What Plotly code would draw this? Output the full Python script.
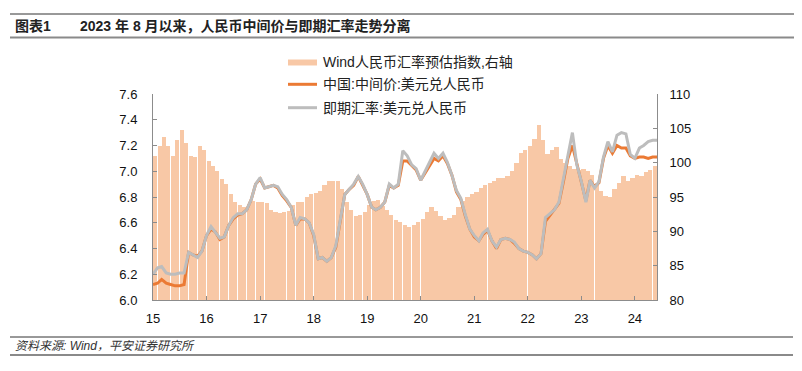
import pandas as pd
import plotly.graph_objects as go

# ---------------- data ----------------
# Monthly bars: Wind人民币汇率预估指数 (right axis), Jan-2015 .. May-2024
bar_months = list(pd.date_range("2015-01-01", "2024-05-01", freq="MS"))
wind_index = [
    101.0, 102.5, 103.8, 102.5, 101.0, 103.3, 104.8, 102.9, 101.0, 100.8, 102.5, 101.8,  # 2015
    100.3, 99.5, 98.8, 97.6, 96.9, 95.4, 94.3, 93.9, 93.5, 93.9, 94.4, 94.3,            # 2016
    94.3, 94.1, 93.1, 92.8, 92.6, 92.8, 92.9, 93.9, 94.3, 94.3, 95.0, 95.4,             # 2017
    95.6, 95.9, 96.7, 97.3, 97.4, 97.3, 96.1, 94.3, 93.1, 92.2, 92.4, 92.8,             # 2018
    93.9, 94.4, 94.6, 93.7, 93.1, 92.4, 91.6, 91.3, 90.9, 90.7, 90.9, 91.3,             # 2019
    91.8, 92.8, 93.5, 92.9, 92.2, 91.6, 92.0, 92.4, 93.5, 94.4, 95.0, 95.4,             # 2020
    95.8, 96.3, 96.7, 97.1, 97.4, 97.8, 97.8, 98.0, 98.8, 99.9, 101.4, 101.9,           # 2021
    102.5, 103.4, 105.5, 103.3, 101.2, 101.8, 102.3, 100.6, 99.9, 99.5, 99.1, 98.9,     # 2022
    99.1, 98.8, 98.2, 97.1, 95.9, 95.2, 95.0, 96.1, 97.1, 98.0, 97.4, 97.8,             # 2023
    98.2, 98.0, 98.6, 98.9, 99.5,                                                       # 2024
]

# Line dates: month starts + last day of the sample
line_dates = list(pd.date_range("2015-01-01", "2024-05-01", freq="MS")) + [pd.Timestamp("2024-05-31")]
# 中国:中间价:美元兑人民币
central_parity = [
    6.12, 6.13, 6.16, 6.13, 6.12, 6.11, 6.11, 6.12, 6.37, 6.35, 6.34, 6.38,
    6.50, 6.55, 6.53, 6.47, 6.49, 6.58, 6.63, 6.66, 6.67, 6.70, 6.78, 6.90,
    6.94, 6.87, 6.88, 6.89, 6.87, 6.81, 6.77, 6.72, 6.58, 6.63, 6.63, 6.60,
    6.50, 6.32, 6.33, 6.30, 6.33, 6.41, 6.61, 6.82, 6.86, 6.89, 6.96, 6.89,
    6.82, 6.72, 6.70, 6.72, 6.76, 6.89, 6.87, 6.89, 7.08, 7.08, 7.04, 7.01,
    6.93, 6.99, 7.04, 7.10, 7.08, 7.12, 7.06, 6.97, 6.84, 6.78, 6.65, 6.55,
    6.49, 6.46, 6.51, 6.54, 6.46, 6.40, 6.47, 6.48, 6.47, 6.44, 6.40, 6.38,
    6.37, 6.35, 6.32, 6.36, 6.61, 6.66, 6.70, 6.75, 6.92, 7.10, 7.20, 7.06,
    6.92, 6.77, 6.93, 6.88, 6.91, 7.10, 7.20, 7.14, 7.20, 7.18, 7.18, 7.12,
    7.10, 7.11, 7.11, 7.10, 7.11, 7.11,
]
# 即期汇率:美元兑人民币
spot_rate = [
    6.20, 6.25, 6.26, 6.21, 6.20, 6.20, 6.21, 6.21, 6.37, 6.35, 6.33, 6.38,
    6.50, 6.57, 6.53, 6.48, 6.49, 6.58, 6.64, 6.67, 6.67, 6.70, 6.78, 6.90,
    6.95, 6.87, 6.88, 6.89, 6.88, 6.82, 6.78, 6.72, 6.58, 6.64, 6.63, 6.60,
    6.51, 6.32, 6.33, 6.30, 6.33, 6.42, 6.62, 6.82, 6.86, 6.90, 6.96, 6.90,
    6.82, 6.72, 6.70, 6.72, 6.76, 6.90, 6.87, 6.90, 7.16, 7.12, 7.05, 7.02,
    6.93, 7.00, 7.06, 7.14, 7.10, 7.14, 7.07, 6.97, 6.85, 6.79, 6.66, 6.55,
    6.50, 6.46, 6.52, 6.55, 6.46, 6.41, 6.47, 6.48, 6.47, 6.45, 6.40, 6.38,
    6.37, 6.35, 6.32, 6.36, 6.64, 6.67, 6.70, 6.76, 6.93, 7.12, 7.30, 7.05,
    6.92, 6.76, 6.93, 6.87, 6.92, 7.11, 7.23, 7.15, 7.28, 7.30, 7.29, 7.13,
    7.10, 7.18, 7.20, 7.23, 7.24, 7.24,
]

year_ticks = [f"{y}-01-01" for y in range(2015, 2025)]
year_labels = ["15", "16", "17", "18", "19", "20", "21", "22", "23", "24"]

legend_names = ["Wind人民币汇率预估指数,右轴", "中国:中间价:美元兑人民币", "即期汇率:美元兑人民币"]
title_tag = "图表1"
title_text = "2023 年 8 月以来，人民币中间价与即期汇率走势分离"
source_text = "资料来源: Wind，平安证券研究所"

# ---------------- styles ----------------
BAR_C = "#F8C8A6"
ORANGE = "#EB7A34"
GRAY = "#BDBDBD"
AXIS_C = "#8C8C8C"
FONT = "Liberation Sans, Arial, Noto Sans CJK SC, sans-serif"
CJK = "Liberation Sans, Noto Sans CJK SC, sans-serif"

# page body has an 8px margin: lay the figure out in window pixels minus that offset
OFF = 8
W, H = 802 - OFF, 371 - OFF
L, R, T, B = 153 - OFF, 657 - OFF, 94 - OFF, 300 - OFF


def px(xp):
    return (xp - OFF - L) / (R - L)


def py(yp):
    return (B - (yp - OFF)) / (B - T)


fig = go.Figure()
fig.add_trace(go.Bar(
    x=bar_months, y=wind_index, yaxis="y", name=legend_names[0],
    marker=dict(color=BAR_C, line=dict(width=0)),
    offset=0, width=28.5 * 86400000, showlegend=False,
))
fig.add_trace(go.Scatter(
    x=line_dates, y=central_parity, yaxis="y2", mode="lines", name=legend_names[1],
    line=dict(color=ORANGE, width=3), showlegend=False,
))
fig.add_trace(go.Scatter(
    x=line_dates, y=spot_rate, yaxis="y2", mode="lines", name=legend_names[2],
    line=dict(color=GRAY, width=3), showlegend=False,
))

shapes = []
annotations = []

# header / footer rules
shapes.append(dict(type="line", xref="paper", yref="paper", x0=px(10), x1=px(802), y0=py(14), y1=py(14),
                   line=dict(color="#333333", width=1)))
shapes.append(dict(type="line", xref="paper", yref="paper", x0=px(10), x1=px(802), y0=py(37.5), y1=py(37.5),
                   line=dict(color="#8a8a8a", width=2)))
shapes.append(dict(type="line", xref="paper", yref="paper", x0=px(10), x1=px(793), y0=py(337), y1=py(337),
                   line=dict(color="#333333", width=1)))
shapes.append(dict(type="line", xref="paper", yref="paper", x0=px(10), x1=px(793), y0=py(355), y1=py(355),
                   line=dict(color="#8a8a8a", width=2)))

annotations.append(dict(text=f"<b>{title_tag}</b>", xref="paper", yref="paper", x=px(13), y=py(25.5),
                        xanchor="left", yanchor="middle", showarrow=False,
                        font=dict(family=CJK, size=14, color="#222222")))
annotations.append(dict(text=f"<b>{title_text}</b>", xref="paper", yref="paper", x=px(78), y=py(25.5),
                        xanchor="left", yanchor="middle", showarrow=False,
                        font=dict(family=CJK, size=14, color="#222222")))
annotations.append(dict(text=f"<i>{source_text}</i>", xref="paper", yref="paper", x=px(13), y=py(346),
                        xanchor="left", yanchor="middle", showarrow=False,
                        font=dict(family=CJK, size=12, color="#333333")))

# manual legend
leg_y = [62.5, 84.3, 107.7]
shapes.append(dict(type="rect", xref="paper", yref="paper", x0=px(288), x1=px(317), y0=py(65.5), y1=py(59.5),
                   fillcolor=BAR_C, line=dict(width=0)))
shapes.append(dict(type="line", xref="paper", yref="paper", x0=px(288), x1=px(317), y0=py(leg_y[1]), y1=py(leg_y[1]),
                   line=dict(color=ORANGE, width=3)))
shapes.append(dict(type="line", xref="paper", yref="paper", x0=px(288), x1=px(317), y0=py(leg_y[2]), y1=py(leg_y[2]),
                   line=dict(color=GRAY, width=3)))
for name, yy in zip(legend_names, leg_y):
    annotations.append(dict(text=name, xref="paper", yref="paper", x=px(321), y=py(yy),
                            xanchor="left", yanchor="middle", showarrow=False,
                            font=dict(family=CJK, size=14, color="#222222")))

fig.update_layout(
    width=W, height=H,
    margin=dict(l=L, r=W - R, t=T, b=H - B, pad=0),
    paper_bgcolor="white", plot_bgcolor="white",
    bargap=0,
    showlegend=False,
    shapes=shapes, annotations=annotations,
    xaxis=dict(
        type="date", range=["2015-01-01", "2024-05-31"],
        tickvals=year_ticks, ticktext=year_labels,
        ticks="inside", ticklen=4, tickcolor=AXIS_C,
        showline=True, linecolor=AXIS_C, linewidth=1,
        showgrid=False, zeroline=False,
        tickfont=dict(family=FONT, size=13, color="#111111"),
        ticklabelstandoff=6,
    ),
    yaxis=dict(
        range=[80, 110], dtick=5, side="right",
        ticks="inside", ticklen=4, tickcolor=AXIS_C,
        showline=True, linecolor=AXIS_C, linewidth=1,
        showgrid=False, zeroline=False,
        tickfont=dict(family=FONT, size=13, color="#111111"),
        ticklabelstandoff=9,
    ),
    yaxis2=dict(
        range=[6.0, 7.6], dtick=0.2, tickformat=".1f", side="left", overlaying="y",
        ticks="inside", ticklen=4, tickcolor=AXIS_C,
        showline=True, linecolor=AXIS_C, linewidth=1,
        showgrid=False, zeroline=False,
        tickfont=dict(family=FONT, size=13, color="#111111"),
        ticklabelstandoff=12,
    ),
)

fig.write_html("out.html")
